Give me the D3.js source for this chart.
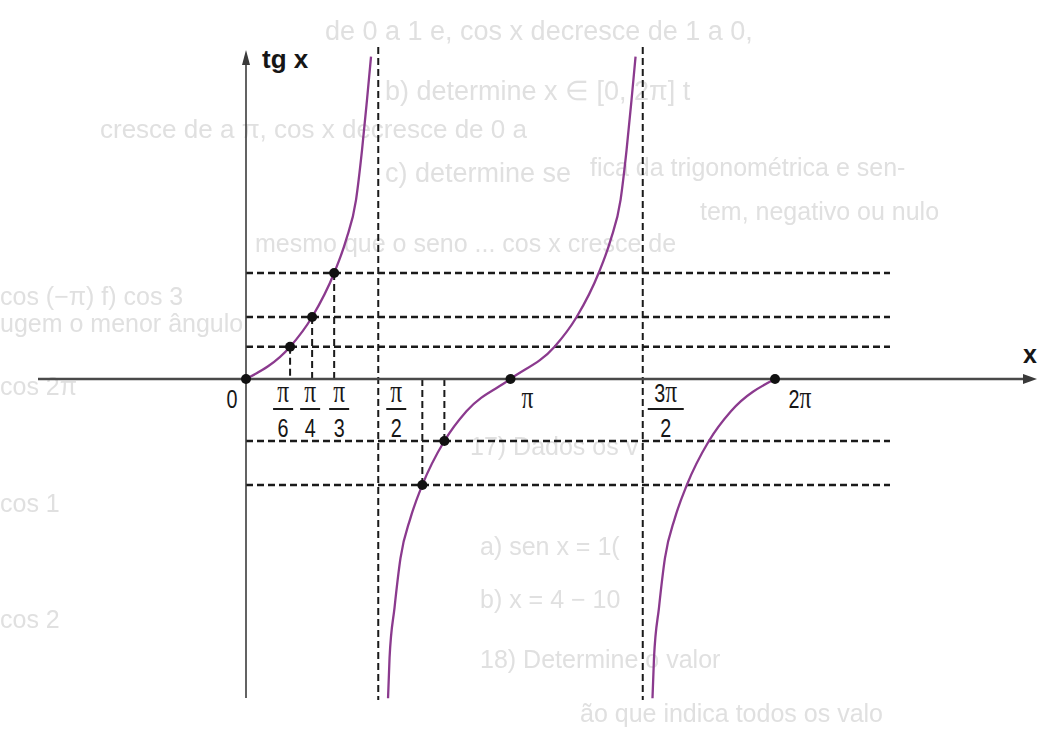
<!DOCTYPE html>
<html>
<head>
<meta charset="utf-8">
<script src="https://cdn.jsdelivr.net/npm/d3@7"></script>
<style>
  html, body { margin: 0; padding: 0; background: #ffffff; }
  svg { display: block; }
  .ghost { font-family: "Liberation Sans", Arial, sans-serif; fill: #e0e0e0; }
  .num { font-family: "Liberation Sans", Arial, sans-serif; font-size: 26px; fill: #161616; }
  .pi { font-family: "Liberation Serif", "DejaVu Serif", serif; font-size: 31px; fill: #161616; }
  .axlabel { font-family: "Liberation Sans", Arial, sans-serif; font-weight: bold; fill: #161616; }
</style>
</head>
<body>
<svg id="chart" width="1064" height="729"></svg>
<script>
// ---- data -------------------------------------------------------------
const PI = Math.PI;

// left branch of tg x, from 0 up towards the asymptote at π/2
const branchLeftX = [0, 0.524, 0.785, 1.047, 1.188, 1.307, 1.378, 1.437, 1.485];
const branchLeftY = [0, 0.52, 1.0, 1.71, 2.24, 2.89, 3.69, 4.5, 5.2];

// middle branch, between the asymptotes π/2 and 3π/2
const branchMidX = [1.687, 1.705, 1.764, 1.835, 1.954, 2.094, 2.356, 2.618, 3.1416,
                    3.665, 3.927, 4.189, 4.330, 4.449, 4.520, 4.579, 4.627];
const branchMidY = [-5.15, -4.5, -3.69, -2.89, -2.24, -1.71, -1.0, -0.52, 0,
                    0.52, 1.0, 1.71, 2.24, 2.89, 3.69, 4.5, 5.2];

// right branch, from the asymptote at 3π/2 up to 2π
const branchRightX = [4.828, 4.846, 4.905, 4.976, 5.095, 5.236, 5.498, 5.760, 6.2832];
const branchRightY = [-5.15, -4.5, -3.69, -2.89, -2.24, -1.71, -1.0, -0.52, 0];

// highlighted points on the curve
const markX = [0, PI / 6, PI / 4, PI / 3, 2 * PI / 3, 3 * PI / 4, PI, 2 * PI];
const markY = [0, 0.52, 1.0, 1.71, -1.71, -1.0, 0, 0];

// horizontal guide levels and vertical asymptotes
const guideLevels = [0.52, 1.0, 1.71, -1.0, -1.71];
const asymptotes = [PI / 2, 3 * PI / 2];

// tick labels on the x axis: [value, numerator, denominator]
const fracTicks = [
  [PI / 6, "π", "6"], [PI / 4, "π", "4"], [PI / 3, "π", "3"],
  [PI / 2, "π", "2"], [3 * PI / 2, "3π", "2"]
];
const plainTicks = [[0, "0"], [PI, "π"], [2 * PI, "2π"]];

// ---- layout -----------------------------------------------------------
const svg = d3.select("#chart");
const x = d3.scaleLinear().domain([0, 2 * PI]).range([246, 775]);
const y = d3.scaleLinear().domain([0, 1]).range([379, 317]);

const axisLeftEnd = 38, axisRightEnd = 1037;
const guideRight = 890;
const vTop = 47, vBottom = 700;
const yAxisTop = 50, yAxisBottom = 698;
const narrow = 0.76;   // horizontal squeeze of the condensed label face

// soft edge for the show-through print
const defs = svg.append("defs");
defs.append("filter").attr("id", "soft")
  .append("feGaussianBlur").attr("stdDeviation", 0.7);

// faint show-through text of the printed page
const ghost = svg.append("g").attr("class", "ghost").attr("filter", "url(#soft)");
[
  [325, 40, 27, "de 0 a 1 e, cos x decresce de 1 a 0,"],
  [385, 100, 27, "b) determine x ∈ [0, 2π] t"],
  [100, 138, 26, "cresce de     a π, cos x decresce de 0 a"],
  [385, 182, 27, "c) determine se"],
  [590, 176, 25, "fica da trigonométrica e sen-"],
  [700, 220, 25, "tem, negativo ou nulo"],
  [255, 252, 25, "mesmo que o seno ... cos x cresce de"],
  [0, 305, 25, "cos (−π)        f) cos 3"],
  [0, 332, 25, "ugem o menor ângulo"],
  [0, 395, 25, "cos 2π"],
  [470, 455, 25, "17) Dados os v"],
  [0, 512, 25, "cos 1"],
  [480, 555, 25, "a)  sen x = 1("],
  [480, 608, 25, "b)  x = 4 − 10"],
  [0, 628, 25, "cos 2"],
  [480, 668, 25, "18) Determine o valor"],
  [580, 722, 25, "ão que indica todos os valo"]
].forEach(([gx, gy, fs, t]) => {
  ghost.append("text").attr("x", gx).attr("y", gy).attr("font-size", fs).text(t);
});

// horizontal dashed guides
svg.append("g").selectAll("line").data(guideLevels).join("line")
  .attr("x1", x(0)).attr("x2", guideRight)
  .attr("y1", d => y(d)).attr("y2", d => y(d))
  .attr("stroke", "#1a1a1a").attr("stroke-width", 2.4)
  .attr("stroke-dasharray", "7,4");

// vertical asymptotes
svg.append("g").selectAll("line").data(asymptotes).join("line")
  .attr("x1", d => x(d)).attr("x2", d => x(d))
  .attr("y1", vTop).attr("y2", vBottom)
  .attr("stroke", "#1a1a1a").attr("stroke-width", 2)
  .attr("stroke-dasharray", "7,4");

// drop lines from marked points to the x axis
const drops = markX.map((v, i) => [v, markY[i]]).filter(d => d[1] !== 0);
svg.append("g").selectAll("line").data(drops).join("line")
  .attr("x1", d => x(d[0])).attr("x2", d => x(d[0]))
  .attr("y1", d => y(d[1])).attr("y2", y(0))
  .attr("stroke", "#1a1a1a").attr("stroke-width", 2)
  .attr("stroke-dasharray", "7,4");

// x axis with arrow
svg.append("line")
  .attr("x1", axisLeftEnd).attr("x2", axisRightEnd - 12)
  .attr("y1", y(0)).attr("y2", y(0))
  .attr("stroke", "#4a4a4a").attr("stroke-width", 2.6);
svg.append("path")
  .attr("d", `M${axisRightEnd},${y(0)} L${axisRightEnd - 14},${y(0) - 5} L${axisRightEnd - 14},${y(0) + 5} Z`)
  .attr("fill", "#3a3a3a");

// y axis with arrow
svg.append("line")
  .attr("x1", x(0)).attr("x2", x(0))
  .attr("y1", yAxisBottom).attr("y2", yAxisTop + 12)
  .attr("stroke", "#3c3c3c").attr("stroke-width", 1.6);
svg.append("path")
  .attr("d", `M${x(0)},${yAxisTop} L${x(0) - 4},${yAxisTop + 15} L${x(0) + 4},${yAxisTop + 15} Z`)
  .attr("fill", "#3a3a3a");

// tg x curve
const line = d3.line()
  .x(d => x(d[0])).y(d => y(d[1]))
  .curve(d3.curveMonotoneX);
const branches = [
  d3.zip(branchLeftX, branchLeftY),
  d3.zip(branchMidX, branchMidY),
  d3.zip(branchRightX, branchRightY)
];
svg.append("g").selectAll("path").data(branches).join("path")
  .attr("d", line)
  .attr("fill", "none")
  .attr("stroke", "#8b3a8e")
  .attr("stroke-width", 2.3);

// marked points
svg.append("g").selectAll("circle").data(d3.zip(markX, markY)).join("circle")
  .attr("cx", d => x(d[0])).attr("cy", d => y(d[1]))
  .attr("r", 5).attr("fill", "#111");

// axis titles
svg.append("text").attr("class", "axlabel")
  .attr("x", 262).attr("y", 68).attr("font-size", 26).text("tg x");
svg.append("text").attr("class", "axlabel")
  .attr("x", 1030).attr("y", 363).attr("font-size", 25)
  .attr("text-anchor", "middle").text("x");

// a condensed text run centred at (cx, base)
function label(parent, cx, base, parts) {
  const t = parent.append("text")
    .attr("transform", `translate(${cx},${base}) scale(${narrow},1)`)
    .attr("text-anchor", "middle");
  parts.forEach(([s, cls]) => t.append("tspan").attr("class", cls).text(s));
  return t;
}

// tick labels
const fracShift = [-7, -2, 5, 18, 23];
const fracG = svg.append("g");
fracTicks.forEach(([v, num, den], i) => {
  const cx = x(v) + fracShift[i];
  const parts = num === "3π" ? [["3", "num"], ["π", "pi"]] : [["π", "pi"]];
  label(fracG, cx, 402, parts);
  const half = num === "3π" ? 18 : 10;
  fracG.append("line")
    .attr("x1", cx - half).attr("x2", cx + half)
    .attr("y1", 409).attr("y2", 409)
    .attr("stroke", "#1a1a1a").attr("stroke-width", 2);
  label(fracG, cx, 437, [[den, "num"]]);
});

const plainShift = [-14, 17, 25];
plainTicks.forEach(([v, t], i) => {
  const parts = t === "0" ? [["0", "num"]]
    : t === "π" ? [["π", "pi"]]
    : [["2", "num"], ["π", "pi"]];
  label(svg, x(v) + plainShift[i], 408, parts);
});
</script>
</body>
</html>
